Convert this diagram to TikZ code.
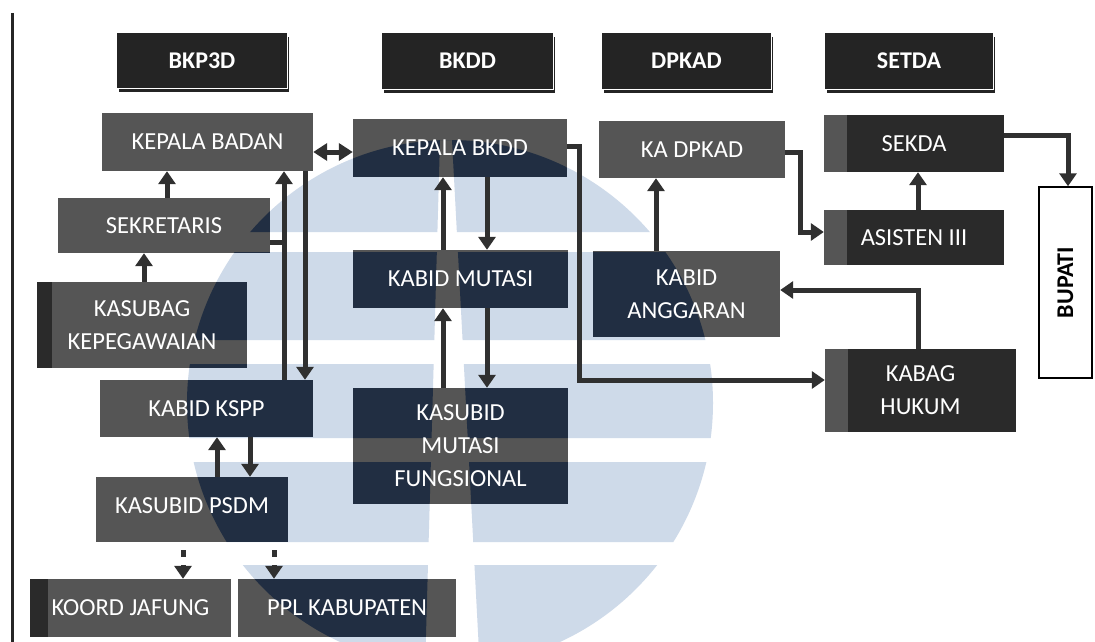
\documentclass[tikz,border=0pt]{standalone}
\usepackage{fontspec}
\usepackage{graphicx}
\setmainfont{Carlito}
\usetikzlibrary{arrows.meta}
\pgfdeclarelayer{wm}\pgfdeclarelayer{boxes}\pgfdeclarelayer{tint}
\pgfsetlayers{wm,boxes,tint,main}
\definecolor{wmblue}{RGB}{206,218,233}
\definecolor{wmnavy}{RGB}{33,46,66}
\definecolor{boxgray}{RGB}{85,85,85}
\definecolor{boxdark}{RGB}{42,42,42}
\definecolor{hdrc}{RGB}{36,36,36}
\definecolor{arrc}{RGB}{48,48,48}
\newcommand\wmclip{%
  \clip (450,403) circle [radius=263];
  \clip (-20,-20) -- (1120,-20) -- (1120,670) -- (-20,670) -- cycle
    (-20,232) -- (-20,252) -- (1120,252) -- (1120,232) -- cycle
    (-20,340) -- (-20,364) -- (1120,364) -- (1120,340) -- cycle
    (-20,438) -- (-20,462) -- (1120,462) -- (1120,438) -- cycle
    (-20,542) -- (-20,565) -- (1120,565) -- (1120,542) -- cycle;
  \clip (-20,-20) -- (1120,-20) -- (1120,670) -- (-20,670) -- cycle
    (440,140) -- (425,670) -- (480,670) -- (452,140) -- cycle;
}
\begin{document}
\begin{tikzpicture}[x=1pt,y=-1pt,
  box/.style={inner sep=0pt, text=white, align=center,
    font=\fontsize{24.5}{33}\selectfont},
  hdr/.style={box, font=\fontsize{24}{33}\selectfont\bfseries},
  arr/.style={draw=arrc, line width=5pt, -{Triangle[width=17pt,length=13pt]}},
  dsh/.style={arr, dash pattern=on 7pt off 8pt, dash phase=7pt},
  dbl/.style={draw=arrc, line width=5pt,
    {Triangle[width=17pt,length=14pt]}-{Triangle[width=17pt,length=14pt]}}]
\useasboundingbox (0,0) rectangle (1095,642);
% left rule
\draw[line width=3pt, black!85] (12,13) -- (12,642);

% headers
\node[hdr, minimum width=170pt, minimum height=55pt] (h1) at (202,60.5) {BKP3D};
\node[hdr, minimum width=171pt, minimum height=56pt] (h2) at (467.5,61) {BKDD};
\node[hdr, minimum width=169pt, minimum height=56pt] (h3) at (686.5,61) {DPKAD};
\node[hdr, minimum width=168pt, minimum height=56pt] (h4) at (909,61) {SETDA};

% BKP3D column
\node[box, minimum width=211pt, minimum height=58pt] (kb) at (207.5,142) {KEPALA BADAN};
\node[box, minimum width=212pt, minimum height=55pt] (sek) at (164,225.5) {SEKRETARIS};
\node[box, minimum width=210pt, minimum height=86pt] (kasubag) at (142,325) {KASUBAG\\KEPEGAWAIAN};
\node[box, minimum width=213pt, minimum height=57pt] (kspp) at (206.5,408.5) {KABID KSPP};
\node[box, minimum width=192pt, minimum height=65pt] (psdm) at (192,509.5) {\raisebox{7pt}{KASUBID PSDM}};
\node[box, minimum width=201pt, minimum height=58pt] (koord) at (130.5,608) {KOORD JAFUNG};
\node[box, minimum width=218pt, minimum height=58pt] (ppl) at (347,608) {PPL KABUPATEN};

% BKDD column
\node[box, minimum width=214pt, minimum height=58pt] (kbkdd) at (460,148) {KEPALA BKDD};
\node[box, minimum width=215pt, minimum height=58pt] (kmut) at (460.5,279) {KABID MUTASI};
\node[box, minimum width=215pt, minimum height=116pt] (ksmut) at (460.5,446) {KASUBID\\MUTASI\\FUNGSIONAL};

% DPKAD column
\node[box, minimum width=186pt, minimum height=57pt] (kadp) at (692,149.5) {KA DPKAD};
\node[box, minimum width=187pt, minimum height=86pt] (kang) at (686.5,294) {KABID\\ANGGARAN};

% SETDA column
\node[box, minimum width=180pt, minimum height=57pt] (sekda) at (914,143.5) {SEKDA};
\node[box, minimum width=180pt, minimum height=55pt] (asis) at (914,237.5) {ASISTEN III};
\node[box, minimum width=191pt, minimum height=83pt] (kabag) at (920.5,390.5) {KABAG\\HUKUM};
\node[draw=black, line width=1.5pt, fill=white, inner sep=0pt,
  minimum width=53pt, minimum height=191pt,
  font=\fontsize{24}{33}\selectfont\bfseries] (bupati) at (1065.5,282.5) {\rotatebox{90}{BUPATI}};

% fills
\begin{pgfonlayer}{wm}
  \fill[white] (0,0) rectangle (1095,642);
  \begin{scope}
    \wmclip
    \fill[wmblue] (0,0) rectangle (1095,642);
  \end{scope}
\end{pgfonlayer}
\begin{pgfonlayer}{boxes}
  \foreach \n in {h1,h2,h3,h4}{
    \fill[hdrc] ([shift={(2,4)}]\n.south west) rectangle ([shift={(2,4)}]\n.north east);
    \fill[hdrc, draw=white, line width=0.8pt] (\n.south west) rectangle (\n.north east);
  }
  \foreach \n in {kb,sek,kasubag,kspp,psdm,koord,ppl,kbkdd,kmut,ksmut,kadp,kang}
    \fill[boxgray] (\n.south west) rectangle (\n.north east);
  \foreach \n in {sekda,asis,kabag}{
    \fill[boxdark] (\n.south west) rectangle (\n.north east);
    \fill[boxgray] (\n.south west) rectangle ([xshift=23pt]\n.north west);
  }
  \fill[boxdark] (kasubag.south west) rectangle ([xshift=15pt]kasubag.north west);
  \fill[boxdark] (koord.south west) rectangle ([xshift=18pt]koord.north west);
\end{pgfonlayer}
\begin{pgfonlayer}{tint}
  \begin{scope}
    \wmclip
    \foreach \n in {kb,sek,kasubag,kspp,psdm,koord,ppl,kbkdd,kmut,ksmut,kadp,kang}
      \fill[wmnavy] (\n.south west) rectangle (\n.north east);
  \end{scope}
\end{pgfonlayer}

% helper coordinates
\foreach \v in {144,167,183,217,250,274,284,305,443,487,579,656,800,918,1068}
  \coordinate (X\v) at (\v,0);
\foreach \v in {135,146,152,232,242,290,380}
  \coordinate (Y\v) at (0,\v);

% connectors
\draw[dbl] (kb.east |- Y152) -- (kbkdd.west |- Y152);
\draw[arr] (sek.north -| X167) -- (kb.south -| X167);
\draw[arr] (kasubag.north -| X144) -- (sek.south -| X144);
\draw[arr] (kspp.north -| X284) -- (kb.south -| X284);
\draw[draw=arrc, line width=5pt] (sek.east |- Y242) -- (X284 |- Y242);
\draw[arr] (kb.south -| X305) -- (kspp.north -| X305);
\draw[arr] (psdm.north -| X217) -- (kspp.south -| X217);
\draw[arr] (kspp.south -| X250) -- (psdm.north -| X250);
\draw[dsh] (psdm.south -| X183) -- (koord.north -| X183);
\draw[dsh] (psdm.south -| X274) -- (ppl.north -| X274);
\draw[arr] (ksmut.north -| X443) -- (kmut.south -| X443);
\draw[arr] (kmut.south -| X487) -- (ksmut.north -| X487);
\draw[arr] (kmut.north -| X443) -- (kbkdd.south -| X443);
\draw[arr] (kbkdd.south -| X487) -- (kmut.north -| X487);
\draw[arr] (kbkdd.east |- Y146) -- (X579 |- Y146) |- (kabag.west |- Y380);
\draw[arr] (kadp.east |- Y152) -- (X800 |- Y152) |- (asis.west |- Y232);
\draw[arr] (kang.north -| X656) -- (kadp.south -| X656);
\draw[arr] (asis.north -| X918) -- (sekda.south -| X918);
\draw[arr] (sekda.east |- Y135) -| (bupati.north -| X1068);
\draw[arr] (kabag.north -| X918) |- (kang.east |- Y290);
\end{tikzpicture}
\end{document}
